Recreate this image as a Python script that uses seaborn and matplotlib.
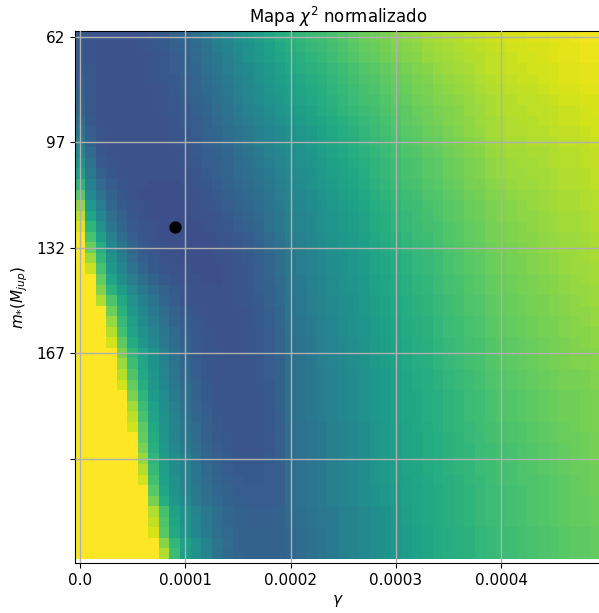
import numpy as np
import pandas as pd
import matplotlib
matplotlib.use("Agg")
import matplotlib.pyplot as plt
import seaborn as sns

# grid of the map (cell centres)
gamma_vals = np.round(np.arange(50) * 1e-5, 8)
m_vals = 62 + 3.5 * np.arange(50)

# normalized chi^2 (x100, colour scale clipped at 100)
# columns 0..19 (gamma = 0 .. 1.9e-4)
chi2_left = [
    "28 26 25 25 25 25 26 27 28 31 33 36 39 43 46 50 53 56 59 62",
    "28 26 25 25 25 25 26 27 28 30 32 35 38 42 45 48 51 54 57 60",
    "28 26 25 25 25 25 25 26 27 29 31 34 37 40 43 47 50 53 56 59",
    "28 27 25 25 25 25 25 26 27 29 31 33 36 39 42 45 48 51 54 57",
    "29 27 25 25 25 25 25 26 27 28 30 32 35 38 41 44 47 50 53 56",
    "30 27 25 25 25 25 25 25 26 28 30 32 34 37 40 43 46 49 52 55",
    "31 27 25 25 25 25 25 25 26 27 29 31 33 36 39 42 45 48 51 53",
    "33 27 25 25 25 25 25 25 26 27 28 30 32 35 38 41 44 46 49 52",
    "36 28 25 25 25 25 25 25 25 26 28 29 31 34 37 40 42 45 47 50",
    "39 29 26 25 25 25 25 25 25 26 27 29 31 33 36 38 41 43 46 48",
    "42 31 26 25 25 25 25 25 25 26 27 28 30 32 34 37 40 43 45 48",
    "46 34 27 25 25 25 25 25 25 25 26 28 29 31 33 36 38 41 44 46",
    "50 37 28 26 25 25 25 25 25 25 26 27 29 30 32 35 37 40 42 45",
    "56 40 31 27 25 25 25 25 25 25 25 26 28 30 32 34 36 38 41 44",
    "65 43 34 29 26 25 25 24 24 24 25 26 27 29 31 33 35 37 40 43",
    "74 47 38 31 27 25 24 24 24 24 25 25 26 28 30 32 34 36 39 42",
    "83 53 42 33 28 26 25 24 24 24 24 25 26 27 29 31 33 35 38 41",
    "90 59 46 36 30 27 25 24 24 24 24 25 25 26 28 30 32 34 37 40",
    "95 65 50 39 32 28 26 25 24 24 24 24 25 26 27 29 31 33 37 40",
    "100 71 56 43 35 30 27 25 24 24 24 24 24 25 26 27 29 32 35 38",
    "100 77 62 47 39 33 28 26 25 24 24 24 24 25 26 27 29 31 34 37",
    "100 85 66 50 42 35 30 27 25 25 24 24 24 25 25 26 28 30 33 36",
    "100 92 71 53 45 38 32 28 26 25 25 24 24 24 25 26 27 29 33 36",
    "100 100 76 58 49 42 36 31 28 26 25 25 24 24 25 26 27 29 32 35",
    "100 100 81 64 55 47 40 35 31 28 26 25 25 25 25 26 27 29 31 34",
    "100 100 88 72 60 50 43 38 33 29 26 25 25 25 25 26 27 28 31 34",
    "100 100 100 78 64 53 46 40 35 31 28 26 25 25 25 25 26 28 30 33",
    "100 100 100 84 67 56 48 42 37 32 29 27 25 25 25 25 26 28 30 33",
    "100 100 100 89 70 58 50 44 39 34 30 27 26 25 25 25 26 27 29 32",
    "100 100 100 93 75 61 52 46 40 35 31 28 26 25 25 25 26 27 29 32",
    "100 100 100 100 80 66 58 50 43 37 32 28 26 26 25 25 26 27 29 32",
    "100 100 100 100 85 69 59 51 44 38 33 29 27 26 26 26 26 27 29 31",
    "100 100 100 100 89 72 60 52 45 39 34 30 27 26 26 26 26 27 29 31",
    "100 100 100 100 93 76 62 53 46 40 35 31 28 26 26 26 26 27 28 31",
    "100 100 100 100 100 80 65 55 48 41 36 31 28 26 26 26 26 26 28 31",
    "100 100 100 100 100 86 68 57 49 43 37 32 29 27 26 26 26 26 28 31",
    "100 100 100 100 100 90 71 58 50 44 38 33 30 27 26 26 26 26 28 30",
    "100 100 100 100 100 93 75 60 51 45 39 34 30 28 26 26 26 26 28 30",
    "100 100 100 100 100 100 76 61 52 45 40 35 31 28 27 26 26 26 27 30",
    "100 100 100 100 100 100 80 63 53 47 41 36 32 29 27 26 26 26 27 30",
    "100 100 100 100 100 100 84 65 55 49 43 38 33 30 28 27 27 27 28 30",
    "100 100 100 100 100 100 89 67 56 49 44 39 34 31 29 28 28 28 29 30",
    "100 100 100 100 100 100 93 70 57 50 44 39 35 32 30 29 28 28 29 30",
    "100 100 100 100 100 100 100 74 59 51 45 40 36 33 31 29 29 29 29 30",
    "100 100 100 100 100 100 100 80 62 53 47 41 37 34 31 30 29 29 29 30",
    "100 100 100 100 100 100 100 88 70 57 50 45 40 36 33 31 30 30 30 31",
    "100 100 100 100 100 100 100 91 72 59 51 46 40 36 33 31 30 30 30 31",
    "100 100 100 100 100 100 100 94 74 60 52 46 41 37 34 32 31 31 31 31",
    "100 100 100 100 100 100 100 100 82 66 57 50 44 39 35 32 31 31 31 31",
    "100 100 100 100 100 100 100 100 88 68 56 50 44 38 34 32 31 31 31 31",
]

# columns 20..49 (gamma = 2.0e-4 .. 4.9e-4)
chi2_right = [
    "64 66 68 69 71 73 75 77 78 80 82 83 84 86 87 88 89 90 91 92 93 94 94 95 95 96 96 97 98 98",
    "63 65 67 68 70 72 74 76 77 79 81 82 83 85 86 87 88 89 90 91 92 93 93 94 94 95 96 96 97 97",
    "61 63 65 67 69 71 73 75 76 78 80 81 82 84 85 86 87 88 89 90 91 92 93 93 94 95 96 96 97 97",
    "60 62 64 65 67 69 71 73 74 76 78 79 81 82 84 85 86 87 89 90 91 92 92 93 93 94 95 95 96 96",
    "58 60 62 64 66 68 70 72 73 75 77 78 80 81 83 84 85 86 88 89 90 91 92 92 93 94 95 95 96 96",
    "57 59 61 63 65 67 69 71 72 74 76 77 79 80 82 83 84 85 87 88 89 90 91 91 92 93 94 94 95 95",
    "56 58 60 62 64 66 68 70 71 73 75 76 78 79 81 82 83 84 86 87 88 89 90 90 91 92 93 93 94 94",
    "54 56 58 61 63 65 67 69 70 72 74 75 77 78 80 81 82 84 85 87 88 89 89 90 90 91 92 92 93 94",
    "53 55 57 59 61 63 65 67 69 71 73 75 76 78 79 81 82 83 85 86 87 88 89 89 90 91 92 92 93 93",
    "51 53 55 58 60 62 64 66 68 70 72 74 75 77 78 80 81 83 84 86 87 88 88 89 89 90 91 91 92 93",
    "50 52 54 57 59 61 63 65 67 69 71 73 74 76 77 79 80 82 83 85 86 87 87 88 88 89 90 90 91 92",
    "49 51 53 56 58 60 62 64 66 68 70 72 73 75 76 78 79 81 82 84 85 86 86 87 87 88 89 89 90 91",
    "48 50 52 55 57 59 61 63 65 67 69 71 72 74 75 77 78 80 81 83 84 85 86 86 87 88 89 89 90 91",
    "47 49 51 54 56 58 60 62 65 67 69 71 72 74 75 77 78 80 81 83 84 85 85 86 86 87 88 88 89 90",
    "46 48 50 53 55 57 59 61 64 66 68 70 71 73 74 76 77 79 80 82 83 84 85 85 86 87 88 88 89 90",
    "45 47 49 52 54 56 58 60 63 65 67 69 70 72 73 75 76 78 79 81 82 83 84 84 85 86 87 87 88 89",
    "44 46 48 51 53 55 57 59 62 64 66 68 69 71 72 74 75 77 78 80 81 82 83 84 85 86 87 87 88 89",
    "43 45 47 50 52 54 56 58 61 63 65 67 69 70 72 74 75 77 78 80 81 82 83 83 84 85 86 86 87 88",
    "43 45 47 50 52 54 56 58 61 63 65 67 68 70 71 73 74 76 77 79 80 81 82 83 84 85 86 86 87 88",
    "42 44 46 49 51 53 55 57 60 62 64 66 68 69 71 73 74 76 77 79 80 81 82 82 83 84 85 85 86 87",
    "41 43 45 48 50 52 54 56 59 61 63 65 67 68 70 72 73 75 76 78 79 80 81 82 83 84 85 85 86 87",
    "40 42 44 47 49 51 53 55 58 60 62 64 66 67 69 71 72 74 75 77 78 79 80 81 82 83 84 85 86 87",
    "40 42 44 47 49 51 53 55 58 60 62 64 66 67 69 71 72 74 75 77 78 79 80 81 82 83 84 85 85 86",
    "39 41 43 46 48 50 52 54 57 59 61 63 65 66 68 70 71 73 74 76 77 78 79 80 81 82 83 84 85 86",
    "39 41 43 46 48 50 52 54 57 59 61 63 65 66 68 70 71 73 74 76 77 78 79 80 81 82 83 84 84 85",
    "38 40 42 45 47 49 51 53 56 58 60 62 64 65 67 69 70 72 73 75 76 77 78 79 80 81 82 83 84 85",
    "38 40 42 45 47 49 51 53 56 58 60 62 64 65 67 69 70 72 73 75 76 77 78 79 80 81 82 83 83 84",
    "37 39 41 44 46 48 50 52 55 57 59 61 63 64 66 68 69 71 72 74 75 76 77 78 79 80 81 82 83 84",
    "37 39 41 44 46 48 50 52 55 57 59 61 63 64 66 68 69 71 72 74 75 76 77 78 79 80 81 82 82 83",
    "36 38 40 43 45 47 49 51 54 56 58 60 62 63 65 67 68 70 71 73 74 75 76 77 78 79 80 81 82 83",
    "36 38 40 43 45 47 49 51 54 56 58 60 62 63 65 67 68 70 71 73 74 75 76 77 78 79 80 81 81 82",
    "36 38 40 43 45 47 49 51 54 56 58 60 62 63 65 67 68 70 71 73 74 75 76 77 78 79 80 81 81 82",
    "36 38 40 42 44 46 48 50 53 55 57 59 61 62 64 66 67 69 70 72 73 74 75 76 77 78 79 79 80 81",
    "36 38 40 42 44 46 48 50 53 55 57 59 61 62 64 66 67 69 70 72 73 74 75 76 77 78 79 79 80 81",
    "36 38 40 42 44 46 48 50 53 55 57 59 60 62 63 65 66 68 69 71 72 73 74 75 76 77 78 78 79 80",
    "36 38 40 42 44 46 48 50 53 55 57 59 60 62 63 65 66 68 69 71 72 73 74 75 76 77 78 78 79 80",
    "36 38 40 42 44 46 48 50 53 55 57 59 60 62 63 65 66 68 69 71 72 73 74 75 76 77 78 78 79 80",
    "35 37 39 41 43 45 47 49 52 54 56 58 60 61 63 65 66 67 69 70 71 72 73 74 75 76 77 78 79 80",
    "35 37 39 41 43 45 47 49 52 54 56 58 59 61 62 64 65 67 68 70 71 72 73 74 75 76 77 77 78 79",
    "35 37 39 41 43 45 47 49 52 54 56 58 59 61 62 64 65 66 68 69 70 71 72 73 74 75 76 77 78 79",
    "35 37 39 41 43 45 47 49 52 54 56 58 59 61 62 64 65 66 68 69 70 71 72 73 74 75 76 77 78 79",
    "35 37 39 41 43 45 47 49 52 54 56 58 59 61 62 64 65 66 68 69 70 71 72 73 74 75 76 77 77 78",
    "35 37 39 41 43 45 47 49 52 54 56 57 59 60 62 63 64 66 67 69 70 71 72 72 73 74 75 76 77 78",
    "35 37 39 41 43 45 47 49 51 53 55 57 58 60 61 63 64 65 67 68 69 70 71 72 73 74 75 76 77 78",
    "35 37 39 41 43 45 47 49 51 53 55 57 58 60 61 63 64 65 67 68 69 70 71 72 73 74 75 76 76 77",
    "34 36 38 40 41 43 45 47 49 51 54 56 58 60 61 63 64 65 67 68 69 70 71 72 73 74 75 76 76 77",
    "34 36 38 40 41 43 45 47 49 51 54 56 58 60 61 63 64 65 67 68 69 70 71 72 73 74 75 76 76 77",
    "33 35 37 39 41 43 45 47 49 51 53 55 57 59 61 62 63 64 66 67 68 69 70 71 72 73 74 75 75 76",
    "33 35 37 39 41 43 45 47 49 51 53 55 57 59 61 62 63 64 66 67 68 69 70 71 72 73 74 75 75 76",
    "33 35 37 39 41 43 45 47 49 51 53 55 57 59 61 62 63 64 66 67 68 69 70 71 72 73 74 75 75 76",
]

# tick values / labels
x_tick_values = [0.0, 0.0001, 0.0002, 0.0003, 0.0004]
x_tick_labels = ["0.0", "0.0001", "0.0002", "0.0003", "0.0004"]
y_tick_values = [62, 97, 132, 167, 202]
y_tick_labels = ["62", "97", "132", "167", ""]

# best-fit point
gamma_best = 9e-5
m_best = 125.0

rows = []
for i, (a, b) in enumerate(zip(chi2_left, chi2_right)):
    la = [float(v) for v in a.split()]
    lb = [float(v) for v in b.split()]
    assert len(la) == 20, (i, len(la))
    assert len(lb) == 30, (i, len(lb))
    rows.append(la + lb)
Z = np.array(rows)
df = pd.DataFrame(Z, index=m_vals, columns=gamma_vals)

def gpos(g):
    return int(np.argmin(np.abs(gamma_vals - g))) + 0.5

def mpos(m):
    return int(np.argmin(np.abs(m_vals - m))) + 0.5

W, H = 599, 613
fig = plt.figure(figsize=(W / 100, H / 100), dpi=100)
ax = fig.add_axes([74.7 / W, 50 / H, 526.5 / W, 531.7 / H])

sns.heatmap(df, cmap="viridis", vmin=0, vmax=100, cbar=False, ax=ax,
            xticklabels=False, yticklabels=False)

ax.set_xlim(0, 50)
ax.set_ylim(50.38, 0)
ax.set_xticks([gpos(g) for g in x_tick_values])
ax.set_xticklabels(x_tick_labels, rotation=0)
ax.set_yticks([mpos(m) for m in y_tick_values])
ax.set_yticklabels(y_tick_labels, rotation=0)

for s in ["left", "bottom", "top", "right"]:
    ax.spines[s].set_visible(True)
    ax.spines[s].set_linewidth(0.8)
    ax.spines[s].set_color("black")

ax.grid(True, color="#b0b0b0", linewidth=1.0)
ax.set_axisbelow(False)
ax.tick_params(length=3.5, width=0.8, labelsize=11, direction="out",
               bottom=True, left=True)

ax.scatter([gpos(gamma_best)], [mpos(m_best)], s=62, color="black", zorder=5)

ax.set_title("Mapa $\\chi^2$ normalizado", fontsize=12)
ax.set_xlabel("$\\gamma$", fontsize=11)
ax.set_ylabel("$m_{*}(M_{jup})$", fontsize=11)

fig.savefig("out.png", dpi=100)
